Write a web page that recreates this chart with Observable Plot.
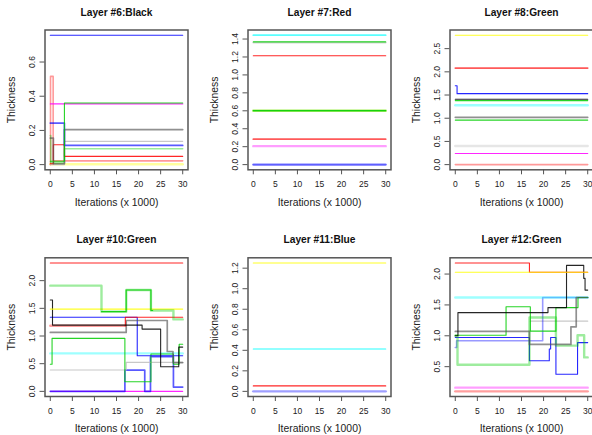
<!DOCTYPE html>
<html><head><meta charset="utf-8">
<script src="https://cdn.jsdelivr.net/npm/d3@7"></script>
<script src="https://cdn.jsdelivr.net/npm/@observablehq/plot@0.6"></script>
<style>
html,body{margin:0;padding:0;background:#fff;overflow:hidden;}
#wrap{position:relative;width:592px;height:435px;overflow:hidden;}
#wrap svg{position:absolute;}
</style></head>
<body><div id="wrap"></div>
<script>
// ---------- shared axis data ----------
const xTicks = [0, 5, 10, 15, 20, 25, 30];
const xLabel = "Iterations (x 1000)";
const yLabel = "Thickness";
const titles = ["Layer #6:Black", "Layer #7:Red", "Layer #8:Green", "Layer #10:Green", "Layer #11:Blue", "Layer #12:Green"];

// ---------- y tick values & labels ----------
const yTicks6 = [0, 0.2, 0.4, 0.6];          const yLab6 = ["0.0", "0.2", "0.4", "0.6"];
const yTicks7 = [0, 0.2, 0.4, 0.6, 0.8, 1.0, 1.2, 1.4];
const yLab7 = ["0.0", "0.2", "0.4", "0.6", "0.8", "1.0", "1.2", "1.4"];
const yTicks8 = [0, 0.5, 1.0, 1.5, 2.0, 2.5];  const yLab8 = ["0.0", "0.5", "1.0", "1.5", "2.0", "2.5"];
const yTicks10 = [0, 0.5, 1.0, 1.5, 2.0];      const yLab10 = ["0.0", "0.5", "1.0", "1.5", "2.0"];
const yTicks11 = [0, 0.2, 0.4, 0.6, 0.8, 1.0, 1.2];
const yLab11 = ["0.0", "0.2", "0.4", "0.6", "0.8", "1.0", "1.2"];
const yTicks12 = [0.5, 1.0, 1.5, 2.0];          const yLab12 = ["0.5", "1.0", "1.5", "2.0"];

// ---------- Layer 6 series: [iteration (x1000), thickness] ----------
const L6_yellow = [[0, 0.002], [30, 0.002]];
const L6_redLight = [[0, 0.0], [0.05, 0.516], [0.65, 0.022], [30, 0.022]];
const L6_red = [[0, 0.005], [0.7, 0.116], [3.2, 0.048], [30, 0.048]];
const L6_greenLight = [[0, 0.17], [0.1, 0.01], [3.2, 0.093], [30, 0.093]];
const L6_gray = [[0, 0.0], [3.2, 0.136], [30, 0.136]];
const L6_black = [[0, 0.155], [0.7, 0.005], [3.2, 0.205], [30, 0.205]];
const L6_blue2 = [[0, 0.243], [3.2, 0.112], [30, 0.112]];
const L6_magenta = [[0, 0.355], [30, 0.355]];
const L6_green = [[0, 0.02], [3.2, 0.36], [30, 0.36]];
const L6_blue = [[0, 0.757], [30, 0.757]];

// ---------- Layer 7 ----------
const L7_blueLight = [[0, 0.0], [30, 0.0]];
const L7_blue = [[0, 0.0], [30, 0.0]];
const L7_magenta = [[0, 0.206], [30, 0.206]];
const L7_red2 = [[0, 0.284], [30, 0.284]];
const L7_greenLight = [[0, 0.60], [30, 0.60]];
const L7_green2 = [[0, 0.602], [30, 0.602]];
const L7_red = [[0, 1.213], [30, 1.213]];
const L7_gray = [[0, 1.36], [30, 1.36]];
const L7_green = [[0, 1.368], [30, 1.368]];
const L7_cyan = [[0, 1.443], [30, 1.443]];

// ---------- Layer 8 ----------
const L8_redLight = [[0, 0.0], [30, 0.0]];
const L8_magenta = [[0, 0.24], [30, 0.24]];
const L8_gray = [[0, 0.40], [30, 0.40]];
const L8_green2 = [[0, 0.96], [30, 0.96]];
const L8_black2 = [[0, 1.02], [30, 1.02]];
const L8_cyan = [[0, 1.28], [30, 1.28]];
const L8_green = [[0, 1.38], [30, 1.38]];
const L8_black = [[0, 1.41], [30, 1.41]];
const L8_blue = [[0, 1.70], [0.4, 1.53], [30, 1.53]];
const L8_red = [[0, 2.08], [30, 2.08]];
const L8_yellow = [[0, 2.79], [30, 2.79]];

// ---------- Layer 10 ----------
const L10_magenta = [[0, 0.0], [30, 0.0]];
const L10_blue2 = [[0, 0.0], [16.9, 0.385], [21.4, 0.0], [22.7, 0.626], [27.9, 0.078], [30, 0.078]];
const L10_gray = [[0, 0.385], [17.2, 0.523], [30, 0.523]];
const L10_cyan = [[0, 0.686], [30, 0.686]];
const L10_green = [[0, 0.49], [0.4, 0.957], [16.9, 0.174], [22.8, 0.674], [27.9, 0.49], [29.2, 0.85], [30, 0.85]];
const L10_blue = [[0, 1.34], [19.7, 0.644], [30, 0.644]];
const L10_darkgray = [[0, 1.065], [17.2, 1.28], [26.5, 0.72], [27.8, 0.52], [30, 0.52]];
const L10_redLight = [[0, 1.185], [17, 1.185]];
const L10_red2 = [[16.95, 1.185], [17, 1.34], [30, 1.34]];
const L10_black = [[0, 1.65], [0.5, 1.197], [20.8, 1.125], [25, 0.445], [29.1, 0.80], [30, 0.80]];
const L10_yellow = [[0, 1.486], [30, 1.486]];
const L10_greenLight = [[0, 1.91], [11.6, 1.44], [17.2, 1.83], [22.8, 1.46], [27.9, 1.30], [30, 1.30]];
const L10_green2 = [[11.6, 1.44], [17.2, 1.83], [22.8, 1.46], [23.2, 1.46]];
const L10_red = [[0, 2.32], [30, 2.32]];

// ---------- Layer 11 ----------
const L11_blueLight = [[0, 0.0], [30, 0.0]];
const L11_red = [[0, 0.053], [30, 0.053]];
const L11_cyan = [[0, 0.413], [30, 0.413]];
const L11_yellow = [[0, 1.251], [30, 1.251]];

// ---------- Layer 12 ----------
const L12_redLight = [[0, 0.10], [30, 0.10]];
const L12_magenta = [[0, 0.16], [30, 0.16]];
const L12_gray = [[17, 1.237], [30, 1.237]];
const L12_cyan = [[0, 1.62], [30, 1.62]];
const L12_blueLight = [[0, 0.81], [0.3, 0.92], [19.8, 1.62], [30, 1.62]];
const L12_blue = [[0, 0.973], [16.8, 0.597], [21.3, 0.785], [21.6, 0.973], [22.8, 0.376], [27.7, 0.89], [30, 0.89]];
const L12_greenLight = [[0, 1.0], [0.5, 0.532], [16.8, 1.296], [22.8, 0.84], [27.7, 1.01], [29.2, 0.65], [30, 0.65]];
const L12_green = [[0, 1.01], [11.5, 1.47], [17, 1.075], [22.8, 1.457], [27.8, 1.62], [30, 1.62]];
const L12_black2 = [[0, 1.07], [16.8, 0.86], [26.2, 1.145], [27.4, 1.62], [30, 1.62]];
const L12_black = [[0, 1.0], [0.6, 1.376], [21, 1.457], [25.2, 2.14], [29.1, 1.93], [29.4, 1.74], [30, 1.74]];
const L12_red = [[0, 2.18], [16.8, 2.03], [30, 2.03]];
const L12_yellow = [[0, 2.03], [30, 2.03]];

// ---------- styles ----------
const C = {black: "#000000", red: "#FF0000", green: "#00CD00", blue: "#0000FF", cyan: "#00FFFF",
           magenta: "#FF00FF", yellow: "#FFFF00", gray: "#BEBEBE", dark: "#555555"};
const S = {solid: {w: 1.1, o: 0.85}, mid: {w: 1.7, o: 0.65}, light: {w: 2.4, o: 0.38}, thin: {w: 1.6, o: 0.4}};

const panels = [
  {title: titles[0], ticks: yTicks6, labels: yLab6, row: 0, col: 0, series: [
    [L6_yellow, "yellow", "light"], [L6_redLight, "red", "thin"], [L6_greenLight, "green", "thin"],
    [L6_gray, "gray", "solid"], [L6_red, "red", "solid"], [L6_black, "dark", "mid"], [L6_blue2, "blue", "mid"],
    [L6_magenta, "magenta", "solid"], [L6_green, "green", "solid"], [L6_blue, "blue", "solid"]]},
  {title: titles[1], ticks: yTicks7, labels: yLab7, row: 0, col: 1, series: [
    [L7_blueLight, "blue", "light"], [L7_blue, "blue", "thin"], [L7_magenta, "magenta", "light"],
    [L7_red2, "red", "mid"], [L7_greenLight, "yellow", "light"], [L7_greenLight, "green", "light"], [L7_green2, "green", "solid"],
    [L7_red, "red", "solid"], [L7_gray, "gray", "mid"], [L7_green, "green", "solid"], [L7_cyan, "cyan", "mid"]]},
  {title: titles[2], ticks: yTicks8, labels: yLab8, row: 0, col: 2, series: [
    [L8_redLight, "red", "thin"], [L8_magenta, "magenta", "solid"], [L8_gray, "gray", "light"],
    [L8_green2, "green", "solid"], [L8_black2, "dark", "mid"], [L8_cyan, "cyan", "light"], [L8_green, "green", "solid"],
    [L8_black, "black", "solid"], [L8_blue, "blue", "solid"], [L8_red, "red", "mid"], [L8_yellow, "yellow", "solid"]]},
  {title: titles[3], ticks: yTicks10, labels: yLab10, row: 1, col: 0, series: [
    [L10_magenta, "magenta", "solid"], [L10_blue2, "blue", "mid"], [L10_gray, "gray", "solid"], [L10_cyan, "cyan", "light"],
    [L10_green, "green", "solid"], [L10_blue, "blue", "solid"], [L10_darkgray, "dark", "mid"], [L10_redLight, "red", "light"],
    [L10_red2, "red", "solid"], [L10_black, "black", "solid"], [L10_yellow, "yellow", "solid"],
    [L10_greenLight, "green", "light"], [L10_green2, "green", "solid"], [L10_red, "red", "solid"]]},
  {title: titles[4], ticks: yTicks11, labels: yLab11, row: 1, col: 1, series: [
    [L11_blueLight, "blue", "light"], [L11_red, "red", "solid"], [L11_cyan, "cyan", "solid"], [L11_yellow, "yellow", "solid"]]},
  {title: titles[5], ticks: yTicks12, labels: yLab12, row: 1, col: 2, series: [
    [L12_redLight, "red", "light"], [L12_magenta, "magenta", "light"], [L12_gray, "gray", "solid"], [L12_blueLight, "blue", "thin"],
    [L12_cyan, "cyan", "light"], [L12_blue, "blue", "solid"], [L12_greenLight, "green", "light"], [L12_green, "green", "solid"],
    [L12_black2, "dark", "mid"], [L12_black, "black", "solid"], [L12_red, "red", "solid"], [L12_yellow, "yellow", "solid"]]}
];

const colLeft = [0.2, 202.8, 404.5];
const rowGeom = [
  {top: 0, height: 217, mt: 29.5, mb: 47.7, titleDy: -17.2},
  {top: 217, height: 218, mt: 40.3, mb: 39, titleDy: -18.3}
];
const font = "'Liberation Sans', Arial, Helvetica, sans-serif";
const wrap = document.getElementById("wrap");

for (const p of panels) {
  const g = rowGeom[p.row];
  const all = p.series.flatMap(s => s[0].map(d => d[1]));
  const lo = d3.min(all), hi = d3.max(all), pad = (hi - lo) * 0.04;
  const marks = [];
  for (const [data, col, st] of p.series) {
    marks.push(Plot.line(data, {x: d => d[0], y: d => d[1], curve: "step-after",
      stroke: C[col], strokeWidth: S[st].w, strokeOpacity: S[st].o}));
  }
  marks.push(
    Plot.frame({stroke: "#555", strokeWidth: 1.5}),
    Plot.axisX({ticks: xTicks, tickSize: 5, tickPadding: 6, fontSize: 8.5, label: null, stroke: "#555", tickFormat: d => String(d)}),
    Plot.axisY({ticks: p.ticks, tickSize: 5, label: null, stroke: "#555", tickFormat: () => ""}),
    Plot.text(p.ticks, {y: d => d, frameAnchor: "left", dx: -13, rotate: -90, text: (d, i) => p.labels[i],
      fontSize: 8.5, textAnchor: "middle", lineAnchor: "middle", fill: "#222"}),
    Plot.text([p.title], {frameAnchor: "top", dy: g.titleDy, text: d => d, fontWeight: "bold", fontSize: 10.2, lineAnchor: "middle", fill: "#111"}),
    Plot.text([xLabel], {frameAnchor: "bottom", dy: 32.4, text: d => d, fontSize: 10.4, lineAnchor: "middle", fill: "#222"}),
    Plot.text([yLabel], {frameAnchor: "left", dx: -33, rotate: -90, text: d => d, fontSize: 10.4, textAnchor: "middle", lineAnchor: "middle", fill: "#222"})
  );
  const chart = Plot.plot({
    width: 197, height: g.height,
    marginLeft: 44.5, marginRight: 9.5, marginTop: g.mt, marginBottom: g.mb,
    x: {domain: [-1.2, 31.2]},
    y: {domain: [lo - pad, hi + pad]},
    style: {fontFamily: font, background: "transparent", overflow: "visible", color: "#222"},
    marks
  });
  chart.style.left = colLeft[p.col] + "px";
  chart.style.top = g.top + "px";
  wrap.appendChild(chart);
}
</script></body></html>
